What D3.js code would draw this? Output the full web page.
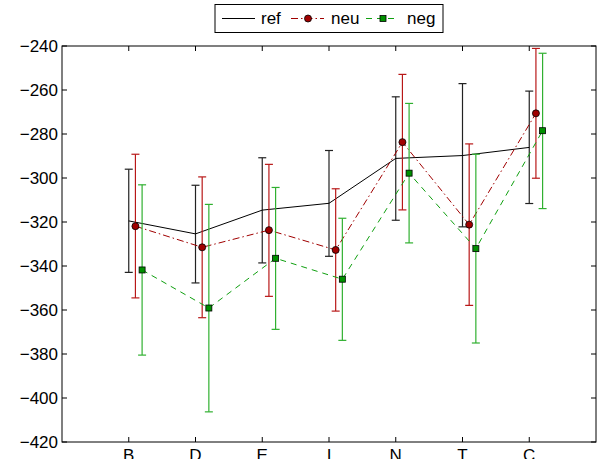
<!DOCTYPE html>
<html>
<head>
<meta charset="utf-8">
<script src="https://cdn.jsdelivr.net/npm/d3@7"></script>
<style>
  body { margin: 0; background: #fff; }
  text { font-family: "Liberation Sans", Arial, sans-serif; }
</style>
</head>
<body>
<div id="chart"></div>
<script>
const categories = ["B", "D", "E", "I", "N", "T", "C"];
const yTicks = [-420, -400, -380, -360, -340, -320, -300, -280, -260, -240];

// mean, lower end and upper end of each error bar
const refMean = [-319.5, -325.4, -314.6, -311.5, -291.1, -289.8, -286.1];
const refLow  = [-342.9, -347.7, -338.6, -335.6, -319.2, -322.2, -311.6];
const refHigh = [-296.0, -303.3, -290.8, -287.5, -263.1, -257.1, -260.5];

const neuMean = [-321.9, -331.5, -323.7, -332.7, -283.7, -321.2, -270.6];
const neuLow  = [-354.5, -363.5, -353.8, -360.5, -314.5, -357.9, -300.1];
const neuHigh = [-289.2, -299.5, -293.8, -304.9, -252.9, -284.5, -241.1];

const negMean = [-341.8, -359.1, -336.5, -346.0, -297.8, -332.1, -278.5];
const negLow  = [-380.5, -406.3, -368.8, -373.8, -329.5, -375.0, -313.9];
const negHigh = [-303.1, -312.0, -304.3, -318.3, -266.1, -289.2, -243.3];

const W = 597, H = 459;
const margin = { left: 62, right: 1, top: 46, bottom: 17 };

const svg = d3.select("#chart").append("svg")
  .attr("width", W).attr("height", H);

const x = d3.scaleLinear().domain([0, 8]).range([margin.left, W - margin.right]);
const y = d3.scaleLinear().domain([-420, -240]).range([H - margin.bottom, margin.top]);

const series = [
  { name: "ref", mean: refMean, low: refLow, high: refHigh, off: 0,
    line: "#000", bar: "#222", dash: null, marker: null },
  { name: "neu", mean: neuMean, low: neuLow, high: neuHigh, off: 0.1,
    line: "#a00000", bar: "#b81818", dash: "7,3,1.5,3", marker: "circle", fill: "#a00000" },
  { name: "neg", mean: negMean, low: negLow, high: negHigh, off: 0.2,
    line: "#10a010", bar: "#30b030", dash: "6,5", marker: "square", fill: "#009000" }
];

const plot = svg.append("g");

series.forEach(function (s) {
  const g = plot.append("g");
  const idx = d3.range(categories.length);
  // error bars
  idx.forEach(function (i) {
    const cx = x(i + 1 + s.off);
    g.append("line")
      .attr("x1", cx).attr("x2", cx)
      .attr("y1", y(s.low[i])).attr("y2", y(s.high[i]))
      .attr("stroke", s.bar).attr("stroke-width", 1.2);
    [s.low[i], s.high[i]].forEach(function (v) {
      g.append("line")
        .attr("x1", cx - 4).attr("x2", cx + 4)
        .attr("y1", y(v)).attr("y2", y(v))
        .attr("stroke", s.bar).attr("stroke-width", 1.2);
    });
  });
  // mean line
  g.append("path")
    .attr("d", d3.line()(idx.map(i => [x(i + 1 + s.off), y(s.mean[i])])))
    .attr("fill", "none")
    .attr("stroke", s.line)
    .attr("stroke-width", 1)
    .attr("stroke-dasharray", s.dash);
  // markers
  idx.forEach(function (i) {
    const cx = x(i + 1 + s.off), cy = y(s.mean[i]);
    if (s.marker === "circle") {
      g.append("circle").attr("cx", cx).attr("cy", cy).attr("r", 3.5)
        .attr("fill", s.fill).attr("stroke", "#000").attr("stroke-width", 0.8);
    } else if (s.marker === "square") {
      g.append("rect").attr("x", cx - 3).attr("y", cy - 3)
        .attr("width", 6).attr("height", 6)
        .attr("fill", s.fill).attr("stroke", "#000").attr("stroke-width", 0.8);
    }
  });
});

// axes box with inward ticks
const x0 = x(0), x1 = x(8), y0 = y(-420), y1 = y(-240);
const axes = svg.append("g");
axes.append("rect")
  .attr("x", x0).attr("y", y1).attr("width", x1 - x0).attr("height", y0 - y1)
  .attr("fill", "none").attr("stroke", "#000").attr("stroke-width", 1);

yTicks.forEach(function (t) {
  const ty = y(t);
  axes.append("line").attr("x1", x0).attr("x2", x0 + 5).attr("y1", ty).attr("y2", ty).attr("stroke", "#000");
  axes.append("line").attr("x1", x1).attr("x2", x1 - 5).attr("y1", ty).attr("y2", ty).attr("stroke", "#000");
  axes.append("text")
    .attr("x", x0 - 4).attr("y", ty).attr("dy", "0.35em")
    .attr("text-anchor", "end").attr("font-size", 17)
    .text(String(t).replace("-", "\u2212"));
});

categories.forEach(function (c, i) {
  const tx = x(i + 1);
  axes.append("line").attr("x1", tx).attr("x2", tx).attr("y1", y0).attr("y2", y0 - 5).attr("stroke", "#000");
  axes.append("line").attr("x1", tx).attr("x2", tx).attr("y1", y1).attr("y2", y1 + 5).attr("stroke", "#000");
  axes.append("text")
    .attr("x", tx).attr("y", y0 + 19)
    .attr("text-anchor", "middle").attr("font-size", 17)
    .text(c);
});

// legend
const leg = svg.append("g");
leg.append("rect").attr("x", 215).attr("y", 4.5).attr("width", 228).attr("height", 28)
  .attr("fill", "#fff").attr("stroke", "#000").attr("stroke-width", 1);
const legItems = [
  { s: series[0], lx: 222, tx: 261 },
  { s: series[1], lx: 291, tx: 331 },
  { s: series[2], lx: 366, tx: 407 }
];
legItems.forEach(function (it) {
  const ly = 18.5;
  leg.append("line").attr("x1", it.lx).attr("x2", it.lx + 33).attr("y1", ly).attr("y2", ly)
    .attr("stroke", it.s.line).attr("stroke-width", 1).attr("stroke-dasharray", it.s.dash);
  const mx = it.lx + 17;
  if (it.s.marker === "circle") {
    leg.append("circle").attr("cx", mx).attr("cy", ly).attr("r", 3.5)
      .attr("fill", it.s.fill).attr("stroke", "#000").attr("stroke-width", 0.8);
  } else if (it.s.marker === "square") {
    leg.append("rect").attr("x", mx - 3).attr("y", ly - 3).attr("width", 6).attr("height", 6)
      .attr("fill", it.s.fill).attr("stroke", "#000").attr("stroke-width", 0.8);
  }
  leg.append("text").attr("x", it.tx).attr("y", ly).attr("dy", "0.35em")
    .attr("font-size", 17).text(it.s.name);
});
</script>
</body>
</html>
